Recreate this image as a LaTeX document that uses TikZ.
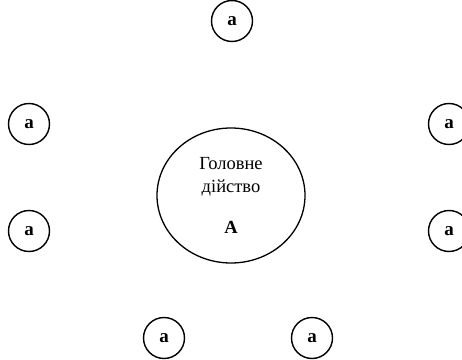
\documentclass[tikz,border=0pt]{standalone}
\usepackage{fontspec}
\setmainfont{Liberation Serif}
\usetikzlibrary{shapes.geometric}
\begin{document}
\begin{tikzpicture}[x=1pt,y=1pt,
  small/.style={draw,line width=1.4pt,circle,minimum size=41pt,inner sep=0pt,font=\fontsize{19}{22}\selectfont\bfseries},
  big/.style={draw,line width=1.3pt,ellipse,minimum width=148pt,minimum height=135pt,inner sep=0pt}]
\clip (0,0) rectangle (462,359);
\useasboundingbox (0,0) rectangle (462,359);
\node[small] (t) at (232,338) {a};
\node[small] (l1) at (29,235) {a};
\node[small] (l2) at (29,128) {a};
\node[small] (r1) at (449,235) {a};
\node[small] (r2) at (449,128) {a};
\node[small] (b1) at (164,21) {a};
\node[small] (b2) at (312,21) {a};
\node[big] (A) at (231,163.5) {};
\node[font=\fontsize{18.5}{23}\selectfont, align=center] (txt) at (231,182) {Головне\\дійство};
\node[font=\fontsize{18.5}{22}\selectfont\bfseries] (lbl) at (231,132) {A};
\end{tikzpicture}
\end{document}
